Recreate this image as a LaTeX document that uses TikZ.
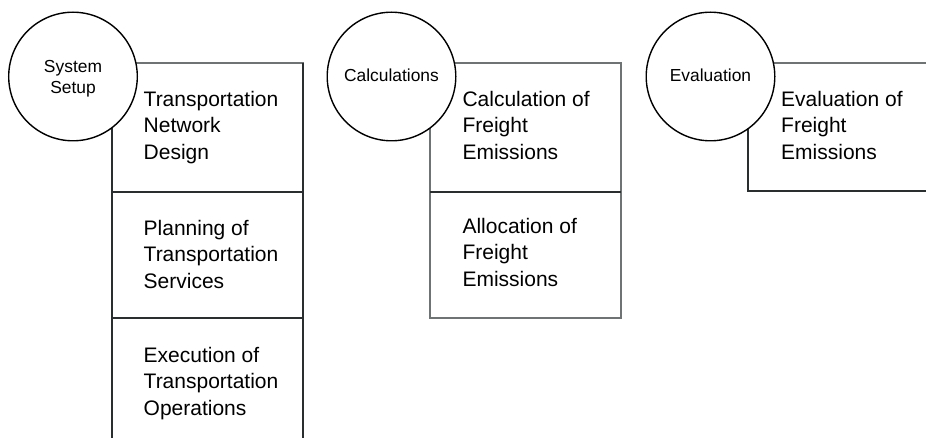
\documentclass[tikz,border=0pt]{standalone}
\usepackage{fontspec}
\setmainfont{Liberation Sans}
\definecolor{graylines}{HTML}{6F7373}
\definecolor{darklines}{HTML}{2A2E2E}
\begin{document}
\begin{tikzpicture}[x=1pt,y=-1pt,
  box/.style={draw=graylines, line width=1.6pt, rectangle, inner sep=0pt, outer sep=0pt,
              minimum width=191pt, anchor=north west},
  darkline/.style={draw=darklines, line width=2.2pt},
  circ/.style={circle, draw=black, fill=white, line width=1.4pt, minimum size=128.6pt, inner sep=0pt},
  boxtext/.style={anchor=base west, align=left, inner sep=0pt, font=\fontsize{21}{26.5}\selectfont},
  circtext/.style={anchor=base, align=center, inner sep=0pt, font=\fontsize{17.4}{20.6}\selectfont}]
\useasboundingbox (0,0) rectangle (926,438);
\clip (0,0) rectangle (926,438);
\fill[white] (0,0) rectangle (926,438);
% boxes
\node[box, minimum height=129pt] (b1a) at (112,63) {};
\node[box, minimum height=126pt] (b1b) at (b1a.south west) {};
\node[box, minimum height=127pt] (b1c) at (b1b.south west) {};
\node[box, minimum height=129pt] (c1a) at (430,63) {};
\node[box, minimum height=126pt] (c1b) at (c1a.south west) {};
\node[box, minimum height=128pt] (e1a) at (748,63) {};
% darker edges
\draw[darkline] (b1a.south west) -- (b1a.south east);
\draw[darkline] (b1b.south west) -- (b1b.south east);
\draw[darkline] (b1a.north west) -- (b1c.south west);
\draw[darkline] (b1a.north east) -- (b1c.south east);
\draw[darkline] (c1a.south west) -- (c1a.south east);
\draw[darkline] (e1a.north west) -- (e1a.south west) -- (e1a.south east);
% box texts (anchored at the last line's baseline)
\node[boxtext] (t1a) at (143.5,159.5) {Transportation\\Network\\Design};
\node[boxtext] (t1b) at (143.5,288.3) {Planning of\\Transportation\\Services};
\node[boxtext] (t1c) at (143.5,415) {Execution of\\Transportation\\Operations};
\node[boxtext] (t2a) at (462.3,159.5) {Calculation of\\Freight\\Emissions};
\node[boxtext] (t2b) at (462.3,286.5) {Allocation of\\Freight\\Emissions};
\node[boxtext] (t3a) at (781,159.5) {Evaluation of\\Freight\\Emissions};
% circles
\node[circ] (s1) at (73,76.5) {};
\node[circ] (s2) at (391.5,76.5) {};
\node[circ] (s3) at (710.5,76.5) {};
\node[circtext] (l1) at (73,93.3) {System\\Setup};
\node[circtext] (l2) at (391.5,81.7) {Calculations};
\node[circtext] (l3) at (710.5,81.7) {Evaluation};
\end{tikzpicture}
\end{document}
